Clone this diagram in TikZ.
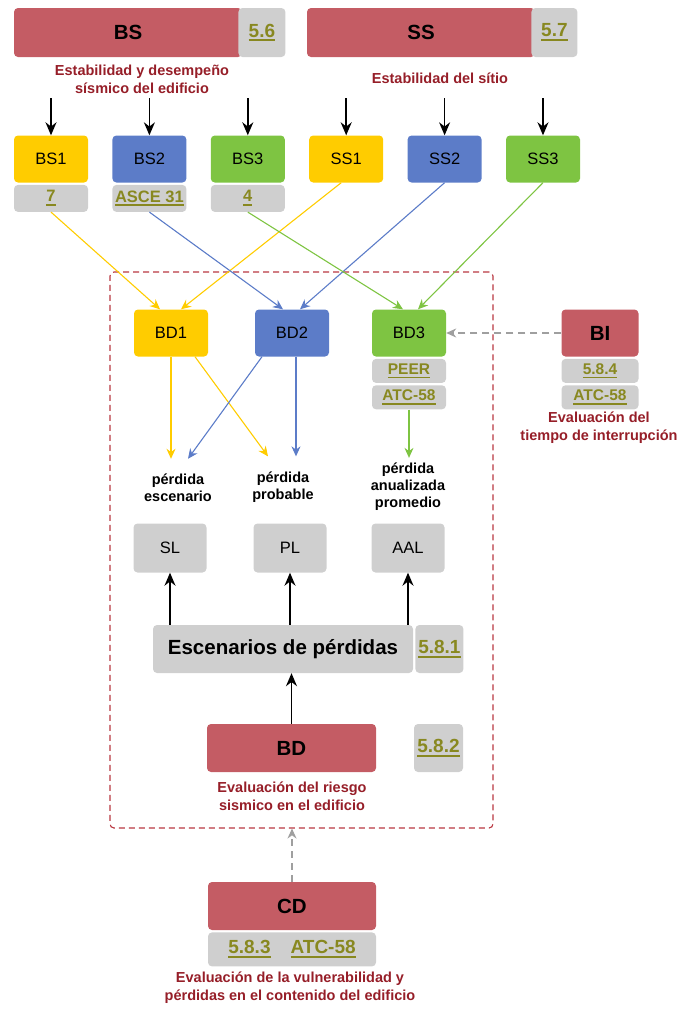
\documentclass[tikz,border=0pt]{standalone}
\usepackage{fontspec}
\setmainfont{Liberation Sans}
\usetikzlibrary{positioning, arrows.meta}
\definecolor{boxred}{RGB}{196,92,100}
\definecolor{boxgrey}{RGB}{207,207,207}
\definecolor{boxyellow}{RGB}{255,204,0}
\definecolor{boxblue}{RGB}{92,124,200}
\definecolor{boxgreen}{RGB}{126,196,66}
\definecolor{refolive}{RGB}{136,136,32}
\definecolor{txtred}{RGB}{150,30,40}
\definecolor{framered}{RGB}{185,55,65}
\newcommand{\refno}[1]{{\color{refolive}\bfseries\setbox0=\hbox{#1}\rlap{\vrule width\wd0 height -2.4pt depth 4.2pt}\box0}}
\tikzset{
x=1pt, y=-1pt, % one unit is one pixel of the sketch, y runs down
>={Stealth[length=10pt, width=9pt]}, % arrow heads for all connectors
every node/.style={font=\fontsize{16.5}{19}\selectfont}, % plain labels
box/.style={rounded corners=4pt, inner sep=0pt, minimum height=47pt}, % base for all boxes
main/.style={box, fill=boxred, minimum height=49pt, font=\fontsize{20.5}{24}\selectfont\bfseries}, % red headline boxes
lvl/.style={box, minimum width=74pt}, % coloured level boxes
code/.style={box, fill=boxgrey, minimum height=27pt}, % grey boxes with section numbers
small ref/.style={font=\fontsize{15.5}{18}\selectfont}, % numbers in the thin grey boxes
big ref/.style={font=\fontsize{19}{22}\selectfont}, % numbers in the tall grey boxes
sub/.style={align=center, text=txtred, font=\fontsize{14.5}{18}\selectfont\bfseries}, % red captions
loss/.style={align=center, outer ysep=12pt, font=\fontsize{14.5}{17}\selectfont\bfseries}, % loss captions
blk/.style={->, line width=1.6pt, >={Stealth[length=13pt, width=11pt]}}, % black arrows
yel/.style={->, line width=1.1pt, boxyellow}, % yellow lines
blu/.style={->, line width=1.1pt, boxblue}, % blue lines
grn/.style={->, line width=1.1pt, boxgreen}, % green lines
dash arrow/.style={->, dash pattern=on 7pt off 5pt, line width=1.2pt, gray!75}, % optional input
frame/.style={draw=framered, dash pattern=on 6pt off 4pt, line width=1.1pt, rounded corners=4pt}, % border of the BD part
}
\begin{document}
\begin{tikzpicture}
\useasboundingbox (0,0) rectangle (683,1010);

\node[frame, minimum width=383pt, minimum height=556pt] (frame) at (301.5,550) {};

\node[main, minimum width=228pt] (BS) at (128,32.5) {BS};
\node[code, big ref, minimum width=47pt, minimum height=49pt, right=-4pt of BS] (BSref) {\refno{5.6}};
\node[main, minimum width=228pt] (SS) at (421,32.5) {SS};
\node[code, big ref, minimum width=46pt, minimum height=49pt, right=-4pt of SS] (SSref) {\refno{5.7}};
\node[sub] (BSsub) at (142,79) {Estabilidad y desempeño\\sísmico del edificio};
\node[sub] (SSsub) at (440,78) {Estabilidad del sítio};

\node[lvl, fill=boxyellow] (BS1) at (51,159) {BS1};
\node[lvl, fill=boxblue, right=24pt of BS1] (BS2) {BS2};
\node[lvl, fill=boxgreen, right=24pt of BS2] (BS3) {BS3};
\node[lvl, fill=boxyellow, right=24pt of BS3] (SS1) {SS1};
\node[lvl, fill=boxblue, right=24pt of SS1] (SS2) {SS2};
\node[lvl, fill=boxgreen, right=24pt of SS2] (SS3) {SS3};
\node[code, minimum width=74pt, below=2pt of BS1] (BS1ref) {\refno{7}};
\node[code, minimum width=74pt, below=2pt of BS2] (BS2ref) {\refno{ASCE 31}};
\node[code, minimum width=74pt, below=2pt of BS3] (BS3ref) {\refno{4}};

\foreach \n in {BS1,BS2,BS3,SS1,SS2,SS3}
    \draw[blk] ([yshift=37pt]\n.north) -- (\n.north);

\node[lvl, fill=boxyellow] (BD1) at (171,333) {BD1};
\node[lvl, fill=boxblue] (BD2) at (292,333) {BD2};
\node[lvl, fill=boxgreen] (BD3) at (409,333) {BD3};
\node[code, small ref, minimum width=74pt, minimum height=24pt, below=2pt of BD3] (BD3ref1) {\refno{PEER}};
\node[code, small ref, minimum width=74pt, minimum height=24pt, below=2pt of BD3ref1] (BD3ref2) {\refno{ATC-58}};

\node[main, minimum width=77pt, minimum height=47pt] (BI) at (600,333) {BI};
\node[code, small ref, minimum width=77pt, minimum height=24pt, below=2pt of BI] (BIref1) {\refno{5.8.4}};
\node[code, small ref, minimum width=77pt, minimum height=24pt, below=2pt of BIref1] (BIref2) {\refno{ATC-58}};
\node[sub] (BIsub) at (599,428) {Evaluación del\\tiempo de interrupción};

\draw[yel] (BS1ref.south) -- ([xshift=-11pt]BD1.north);
\draw[yel] ([xshift=-5pt]SS1.south) -- ([xshift=10pt]BD1.north);
\draw[blu] (BS2ref.south) -- ([xshift=-9pt]BD2.north);
\draw[blu] (SS2.south) -- ([xshift=8pt]BD2.north);
\draw[grn] (BS3ref.south) -- ([xshift=-6pt]BD3.north);
\draw[grn] (SS3.south) -- ([xshift=9pt]BD3.north);
\draw[dash arrow] (BI.west) -- (BD3.east);

\node[loss] (escLbl) at (178,488) {pérdida\\escenario};
\node[loss] (probLbl) at (283,487) {pérdida\\probable};
\node[loss, outer ysep=2pt] (aalLbl) at (408,487) {pérdida\\anualizada\\promedio};

\draw[yel] (BD1.south) -- (BD1.south |- escLbl.north);
\draw[yel] ([xshift=24pt]BD1.south) -- ([xshift=-15pt]probLbl.north);
\draw[blu] ([xshift=-30pt]BD2.south) -- ([xshift=10pt]escLbl.north);
\draw[blu] ([xshift=4pt]BD2.south) -- ([xshift=4pt]BD2.south |- probLbl.north);
\draw[grn] (BD3ref2.south) -- (BD3ref2.south |- aalLbl.north);

\node[code, minimum width=73pt, minimum height=49pt] (SL) at (170,548) {SL};
\node[code, minimum width=73pt, minimum height=49pt] (PL) at (290,548) {PL};
\node[code, minimum width=73pt, minimum height=49pt] (AAL) at (408,548) {AAL};
\node[code, minimum width=260pt, minimum height=48pt, font=\fontsize{20.5}{24}\selectfont\bfseries] (Esc) at (283,649) {Escenarios de pérdidas};
\node[code, big ref, minimum width=48pt, minimum height=48pt, right=2pt of Esc] (Escref) {\refno{5.8.1}};
\node[main, minimum width=169pt, minimum height=48pt] (BD) at (291.5,748) {BD};
\node[code, big ref, minimum width=49pt, minimum height=48pt] (BDref) at (438.5,748) {\refno{5.8.2}};
\node[sub] (BDsub) at (292,796) {Evaluación del riesgo\\sismico en el edificio};

\foreach \n in {SL,PL,AAL}
    \draw[blk] (\n.south |- Esc.north) -- (\n.south);
\draw[blk] (BD.north) -- (BD.north |- Esc.south);

\node[main, minimum width=168pt, minimum height=48pt] (CD) at (292,906) {CD};
\node[code, big ref, minimum width=168pt, minimum height=34pt, below=2pt of CD] (CDref) {\refno{5.8.3}\hspace{20pt}\refno{ATC-58}};
\node[sub] (CDsub) at (290,988) {Evaluación de la vulnerabilidad y\\pérdidas en el contenido del edificio};
\draw[dash arrow] (CD.north) -- (CD.north |- frame.south);
\end{tikzpicture}
\end{document}
